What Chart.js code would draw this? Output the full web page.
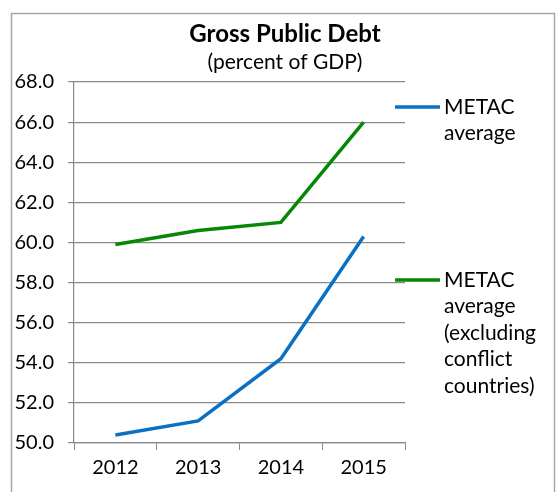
<!DOCTYPE html>
<html>
<head>
<meta charset="utf-8">
<script src="https://cdn.jsdelivr.net/npm/chart.js@4"></script>
<style>
    html, body { margin: 0; padding: 0; background: #fff; }
    #wrap { width: 556px; height: 492px; position: relative; }
</style>
</head>
<body>
<div id="wrap"><canvas id="debtChart"></canvas></div>
<script>
// 資料
const years = ['2012', '2013', '2014', '2015'];
const metacAvg = [50.4, 51.1, 54.2, 60.3];
const metacExConflict = [59.9, 60.6, 61.0, 66.0];
const metacLabel = ['METAC', 'average'];
const metacExLabel = ['METAC', 'average', '(excluding', 'conflict', 'countries)'];
const yTicks = [50, 52, 54, 56, 58, 60, 62, 64, 66, 68];
const titleText = 'Gross Public Debt';
const subtitleText = '(percent of GDP)';

const FONT = 'Lato, "Open Sans", sans-serif';
const GRID = '#8a8a8a';

// 外框與標題（標題置中於整個外框，而非繪圖區）
const framePlugin = {
    id: 'frame',
    beforeDraw(chart) {
        const c = chart.ctx;
        c.save();
        c.strokeStyle = '#a6a6a6';
        c.lineWidth = 1.5;
        c.strokeRect(11.5, 13.5, 543, 500);
        c.fillStyle = '#000';
        c.textAlign = 'center';
        c.textBaseline = 'middle';
        c.font = 'bold 24px ' + FONT;
        c.fillText(titleText, 285, 34);
        c.font = '21px ' + FONT;
        c.fillText(subtitleText, 285, 62);
        c.restore();
    }
};

// 右側圖例（多行文字）
const sideLegend = {
    id: 'sideLegend',
    afterDraw(chart) {
        const c = chart.ctx;
        const anchors = [107, 280];
        c.save();
        c.font = '21px ' + FONT;
        c.textBaseline = 'middle';
        c.fillStyle = '#000';
        chart.data.datasets.forEach((ds, i) => {
            const y = anchors[i];
            c.strokeStyle = ds.borderColor;
            c.lineWidth = 3.5;
            c.beginPath();
            c.moveTo(395, y);
            c.lineTo(440, y);
            c.stroke();
            ds.label.forEach((line, j) => {
                c.fillText(line, 444, y + j * 26.5);
            });
        });
        c.restore();
    }
};

new Chart(document.getElementById('debtChart'), {
    type: 'line',
    data: {
        labels: years,
        datasets: [
            {
                label: metacLabel,
                data: metacAvg,
                borderColor: '#0a70c4',
                borderWidth: 3.5,
                pointRadius: 0,
                tension: 0
            },
            {
                label: metacExLabel,
                data: metacExConflict,
                borderColor: '#068806',
                borderWidth: 3.5,
                pointRadius: 0,
                tension: 0
            }
        ]
    },
    options: {
        responsive: true,
        maintainAspectRatio: false,
        animation: false,
        layout: { padding: { left: 12, right: 151, top: 82, bottom: 6 } },
        scales: {
            x: {
                offset: true,
                grid: {
                    offset: true,
                    drawOnChartArea: false,
                    drawTicks: true,
                    tickLength: 7,
                    color: GRID
                },
                border: { color: GRID, width: 1.2 },
                ticks: {
                    color: '#000',
                    padding: 6,
                    font: { family: FONT, size: 20 },
                    maxRotation: 0
                }
            },
            y: {
                min: 50,
                max: 68,
                afterFit(scale) { scale.width = 62; },
                afterBuildTicks(scale) {
                    scale.ticks = yTicks.map(v => ({ value: v }));
                },
                grid: {
                    color: GRID,
                    lineWidth: 1.2,
                    tickLength: 6
                },
                border: { color: GRID, width: 1.2 },
                ticks: {
                    color: '#000',
                    padding: 14,
                    font: { family: FONT, size: 20 },
                    callback: value => value.toFixed(1)
                }
            }
        },
        plugins: {
            legend: { display: false },
            tooltip: { enabled: false }
        }
    },
    plugins: [framePlugin, sideLegend]
});
</script>
</body>
</html>
